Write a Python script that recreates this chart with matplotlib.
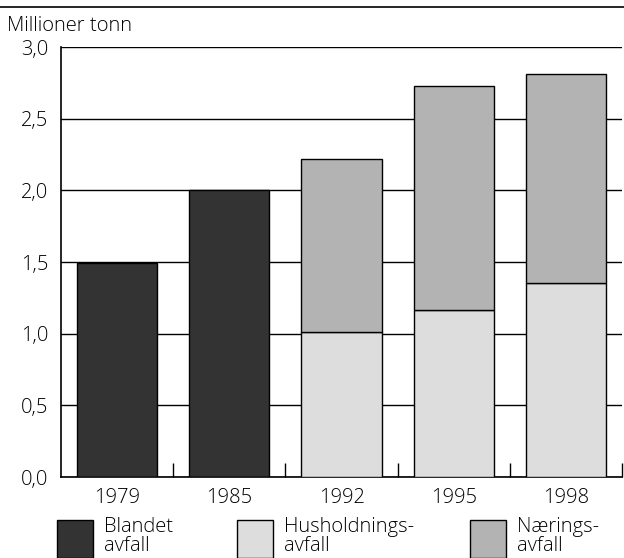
import matplotlib
matplotlib.use('Agg')
import matplotlib.pyplot as plt
from matplotlib.patches import Rectangle
from matplotlib.lines import Line2D
import numpy as np

plt.rcParams['font.family'] = ['Open Sans', 'DejaVu Sans']
plt.rcParams['font.weight'] = 'light'

years = ['1979', '1985', '1992', '1995', '1998']
blandet = [1.49, 2.00, 0, 0, 0]
husholdning = [0, 0, 1.01, 1.165, 1.355]
naering = [0, 0, 1.21, 1.565, 1.455]

labels = ['Blandet\navfall', 'Husholdnings-\navfall', 'Nærings-\navfall']
colors = ['#333333', '#dddddd', '#b3b3b3']

fs = 14.5

fig = plt.figure(figsize=(6.24, 5.58), dpi=100)
ax = fig.add_axes([61 / 624, 1 - 477 / 558, 561 / 624, 430 / 558])

x = np.arange(len(years))
w = 0.715
ax.bar(x, blandet, w, color=colors[0], edgecolor='black', linewidth=1, zorder=3)
ax.bar(x, husholdning, w, color=colors[1], edgecolor='black', linewidth=1, zorder=3)
ax.bar(x, naering, w, bottom=husholdning, color=colors[2], edgecolor='black', linewidth=1, zorder=3)

ax.set_xlim(-0.5, len(years) - 0.5)
ax.set_ylim(0, 3.0)
ax.set_yticks(np.arange(0, 3.01, 0.5))
ax.set_yticklabels([f'{v:.1f}'.replace('.', ',') for v in np.arange(0, 3.01, 0.5)])
ax.set_xticks(x)
ax.set_xticklabels(years)
ax.set_xticks(np.arange(0.5, len(years), 1.0), minor=True)
ax.tick_params(axis='x', which='major', length=0, labelsize=fs, pad=8)
ax.tick_params(axis='x', which='minor', direction='in', length=10, width=1)
ax.tick_params(axis='y', length=0, labelsize=fs, pad=9)

ax.yaxis.grid(True, color='black', linewidth=1)
ax.set_axisbelow(True)
ax.spines['top'].set_visible(False)
ax.spines['right'].set_visible(False)
ax.spines['left'].set_linewidth(1.2)
ax.spines['bottom'].set_linewidth(1.2)

# top rule and unit label
fig.add_artist(Line2D([0, 1], [1 - 7 / 558, 1 - 7 / 558], color='black', linewidth=1.2))
fig.text(7 / 624, 1 - 26 / 558, 'Millioner tonn', fontsize=fs, va='center', ha='left')

# legend
box_x = [57, 237, 470]
for bx, lab, col in zip(box_x, labels, colors):
    fig.add_artist(Rectangle((bx / 624, 0), 36 / 624, 38 / 558, transform=fig.transFigure,
                             facecolor=col, edgecolor='black', linewidth=1))
    fig.text((bx + 47) / 624, 2 / 558, lab, fontsize=fs, va='bottom', ha='left',
             linespacing=0.92)

fig.savefig('out.png', dpi=100)
